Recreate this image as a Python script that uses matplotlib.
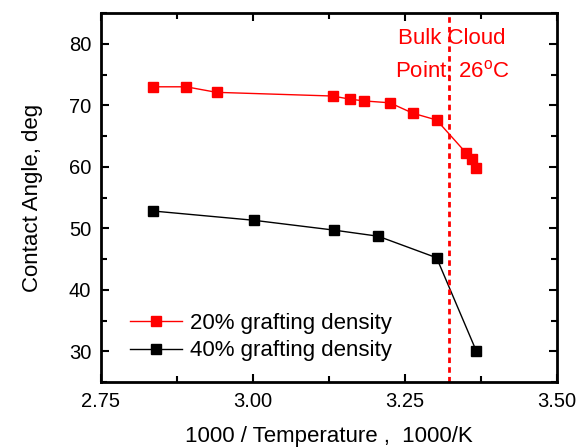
import matplotlib
matplotlib.use("Agg")
import matplotlib.pyplot as plt
from matplotlib.ticker import MultipleLocator, FormatStrFormatter

plt.rcParams['font.family'] = ['Liberation Sans', 'DejaVu Sans']

x20 = [2.836, 2.890, 2.940, 3.131, 3.159, 3.183, 3.225, 3.263, 3.302, 3.350, 3.361, 3.367]
y20 = [73.0, 73.0, 72.1, 71.5, 71.0, 70.7, 70.4, 68.7, 67.6, 62.3, 61.3, 59.8]
x40 = [2.836, 3.001, 3.133, 3.206, 3.302, 3.367]
y40 = [52.8, 51.3, 49.7, 48.7, 45.2, 30.1]
cloud_x = 3.322
labels = ["20% grafting density", "40% grafting density"]

fig = plt.figure(figsize=(5.8, 4.47), dpi=100)
ax = fig.add_axes([101/580, 1-382/447, (557-101)/580, (382-13)/447])

ax.plot(x20, y20, color='red', marker='s', markersize=7.5, lw=1, label=labels[0])
ax.plot(x40, y40, color='black', marker='s', markersize=7.5, lw=1, label=labels[1])
ax.axvline(cloud_x, color='red', ls=(0, (2, 1.5)), lw=2)
ax.text(cloud_x + 0.005, 80.8, "Bulk Cloud", color='red', fontsize=16, ha='center', va='center')
ax.text(cloud_x + 0.005, 75.7, "Point, 26$^{\\mathregular{o}}$C", color='red', fontsize=16, ha='center', va='center')

ax.set_xlim(2.75, 3.50)
ax.set_ylim(25, 85)
ax.xaxis.set_major_locator(MultipleLocator(0.25))
ax.xaxis.set_minor_locator(MultipleLocator(0.125))
ax.yaxis.set_major_locator(MultipleLocator(10))
ax.yaxis.set_minor_locator(MultipleLocator(5))
ax.xaxis.set_major_formatter(FormatStrFormatter('%.2f'))
ax.tick_params(which='both', direction='in', top=True, right=True, width=1.5, labelsize=14.5)
ax.tick_params(axis='x', pad=7)
ax.tick_params(axis='y', pad=7)
ax.tick_params(which='major', length=6)
ax.tick_params(which='minor', length=4)
for s in ax.spines.values():
    s.set_linewidth(2)

ax.set_xlabel("1000 / Temperature ,  1000/K", fontsize=16, labelpad=11)
ax.set_ylabel("Contact Angle, deg", fontsize=16, labelpad=19)

ax.legend(loc='lower left', bbox_to_anchor=(0.045, 0.032), frameon=False, fontsize=16,
          handlelength=2.3, handletextpad=0.4, labelspacing=0.3, borderaxespad=0)

fig.savefig("out.png", dpi=100)
